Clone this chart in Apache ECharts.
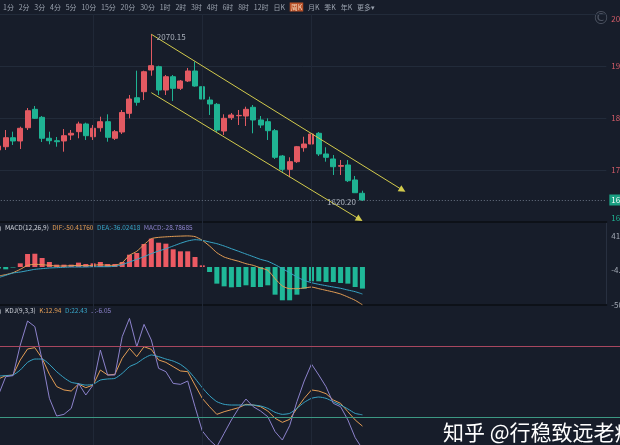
<!DOCTYPE html>
<html><head><meta charset="utf-8">
<script src="https://cdn.jsdelivr.net/npm/echarts@6/dist/echarts.min.js"></script>
<style>html,body{margin:0;padding:0;background:#171d2a;}#c{width:620px;height:445px;}</style>
</head><body><div id="c"></div>
<script>
// ---------- data ----------
const periodTabs = ['1分','2分','3分','4分','5分','10分','15分','20分','30分','1时','2时','3时','4时','6时','8时','12时','日K','周K','月K','季K','年K','更多▾'];
const activeTab = '周K';
const categories = Array.from({length: 86}, (_, i) => 'W' + (i + 1));

const openP  = [1738.5,1744.8,1762.1,1755.8,1781.3,1816.7,1801.3,1761.0,1756.3,1755.8,1767.3,1773.7,1788.5,1764.0,1781.3,1792.9,1761.0,1773.1,1809.0,1839.0,1850.6,1892.3,1898.7,1853.8,1879.4,1857.1,1871.2,1890.4,1860.2,1834.6,1826.3,1775.0,1800.6,1804.4,1803.8,1820.6,1796.2,1792.9,1775.6,1726.9,1701.3,1716.0,1742.9,1750.0,1770.6,1730.8,1721.2,1707.2,1709.6,1680.8,1655.2];
const closeP = [1746.2,1762.1,1755.8,1780.2,1814.0,1799.4,1761.0,1756.3,1754.4,1766.0,1770.6,1788.5,1766.0,1780.2,1792.9,1762.9,1773.7,1810.6,1836.5,1830.2,1889.0,1900.6,1853.8,1879.4,1857.1,1871.2,1890.4,1861.5,1836.5,1826.9,1776.9,1799.4,1805.8,1805.0,1816.7,1796.2,1786.5,1775.6,1724.4,1701.3,1716.0,1744.8,1750.0,1769.2,1730.8,1724.4,1706.3,1708.5,1679.4,1656.3,1642.3];
const lowP   = [1734.6,1738.5,1748.1,1740.4,1776.9,1798.1,1753.8,1749.4,1744.8,1735.2,1757.7,1761.0,1757.7,1757.7,1773.7,1754.4,1757.7,1769.2,1799.4,1823.7,1834.6,1881.3,1844.2,1844.2,1832.7,1853.8,1869.2,1860.2,1821.7,1805.8,1773.1,1767.3,1796.2,1786.5,1784.6,1770.6,1780.8,1757.7,1721.2,1696.7,1686.0,1713.5,1735.2,1748.1,1726.9,1716.0,1690.4,1690.4,1676.9,1655.8,1640.4];
const highP  = [1751.9,1776.9,1773.7,1783.3,1819.2,1823.1,1803.8,1773.7,1763.5,1778.8,1776.9,1792.9,1791.0,1786.5,1802.5,1807.1,1776.9,1815.4,1844.2,1891.0,1891.0,1961.0,1900.6,1882.7,1882.7,1873.1,1896.2,1908.3,1863.5,1841.0,1828.8,1807.1,1809.6,1815.4,1821.7,1825.0,1803.8,1799.4,1778.8,1728.8,1724.4,1746.2,1764.0,1775.6,1773.1,1743.7,1728.8,1719.2,1719.2,1688.5,1660.2];

const macdHist = [-2,-3.1,-0.7,4.9,17.3,17.7,12,6.7,3.1,3.1,3.1,5.8,4,4.9,6.7,4,4,6.7,16.4,18.7,30.7,37.8,32.4,31.1,23.6,20.9,20.9,13.3,2.2,-6.7,-22.2,-25.8,-27.1,-26.7,-24.4,-26.7,-26.7,-24.4,-36.9,-44.4,-44.4,-36.9,-28.9,-19.1,-19.1,-20,-20,-21.3,-22.2,-26.7,-28.79];
const difLine  = [-12,-10.2,-7.6,-3.1,2.2,3.6,3.1,2.2,1.3,1.3,1.8,2.2,1.8,2.2,3.1,2.2,2.2,5.8,15.6,20.9,29.8,37.8,39.5,40.2,40.8,41.2,41.45,40.5,35.6,28,19.1,13.3,10.2,7.6,4.4,2.2,-1.3,-4.4,-15.6,-25.3,-28.9,-28.9,-28,-26.7,-28.9,-31.1,-33.3,-36,-40,-44.4,-50.42];
const deaLine  = [-14.2,-11.1,-8,-6.7,-4.9,-3.1,-2.2,-1.3,-0.9,-0.4,0,0,0,0.4,0.4,0.4,0.9,3.1,6.7,10.2,13.8,17.8,21.3,24.4,28,31.6,34.7,36.4,35.6,33.3,31.1,28,24.4,20.9,17.3,13.8,10.2,7.6,3.1,-2.2,-7.6,-13.3,-17.8,-20.9,-23.1,-24.9,-26.7,-28.4,-30.7,-32.9,-36.02];

const kLine = [52.4,55.2,55.7,68.3,77.5,78.6,69.7,56.3,46,43.2,42.3,48.2,45.1,47.3,59.9,55.7,56.3,69.7,78,71.1,79.4,77.2,68.3,66.3,62.7,59.1,58.5,47.3,36.2,29.2,22.8,25,26.7,28.4,31.2,30.6,29.2,25.6,19.5,16.1,18.6,27.8,36.2,43.2,42.3,40.1,34.8,32,25,18.1,12.94];
const dLine = [54.9,55.2,55.7,59.9,66.3,69.1,69.1,64.6,58.5,53.5,49.6,48.5,47.3,47.9,51.5,52.4,52.9,57.1,62.7,65.5,69.7,72.5,71.1,69.1,67.4,64.6,59.9,52.9,45.1,38.4,33.4,31.2,30.6,30.6,30.6,30.6,29.8,27.8,24.5,22.8,23.6,27.8,32.8,36.2,37.3,36.2,33.4,30.6,27.3,23.6,22.43];
const jLine = [39,54.3,55.2,80.8,100.9,96.2,68.3,36.2,21.4,22.8,27.8,48.7,39,47.3,76.6,55.7,55.7,87.8,103.1,79.4,98.1,85,61.3,58.5,48.7,47.9,50.7,29.2,8.9,1.3,-4.3,6.9,18.1,27.8,35.6,29.2,25.6,20.8,8.3,1.3,13.3,33.4,50.7,64.9,55.7,45.9,32,29.2,18.1,3.3,-6.05];

const priceTickValues = [1600, 1700, 1800, 1900, 2000];
const macdTickLabels = [41.45, -4.48, -50.42];
const kdjLevels = [80, 20];
const extremeLabels = ['2070.15', '1620.20'];
const channelUpper = [[21, 1961.0], [55.5, 1661.5]];
const channelLower = [[21, 1848.7], [49.6, 1605.2]];
const gridMarks = [13, 28, 43];
const macdHeader = ['MACD(12,26,9)', 'DIF:-50.41760', 'DEA:-36.02418', 'MACD:-28.78685'];
const kdjHeader = ['KDJ(9,3,3)', 'K:12.94', 'D:22.43', 'J:-6.05'];
const watermark = '知乎 @行稳致远老痒';

// ---------- styles ----------
const BG = '#171d2a';
const UP = '#e25a62', DOWN = '#1fb393';
const FONT = '"Noto Sans CJK SC", "Noto Sans", sans-serif';
const C_ORANGE = '#e39d55', C_BLUE = '#38a5c6', C_PURPLE = '#8d83cc';

const candleData = openP.map((o, i) => [o, closeP[i], lowP[i], highP[i]]);
const hiIdx = highP.indexOf(Math.max(...highP));
const loIdx = lowP.indexOf(Math.min(...lowP));
const lastIdx = closeP.length - 1;

const graphics = [];
const tabText = periodTabs.map(t => (t === activeTab ? '{a|' : '{n|') + t + '}').join('{g| }');
graphics.push({type: 'text', x: 3, y: 7, silent: true, style: {
  text: tabText, verticalAlign: 'middle',
  rich: {
    n: {fontSize: 7, fontFamily: FONT, fill: '#9aa2ae'},
    a: {fontSize: 7, fontFamily: FONT, fill: '#f3d2b8', backgroundColor: '#b9522a', padding: [1, 1, 1, 1]},
    g: {fontSize: 7, fontFamily: FONT, fill: '#9aa2ae', width: 4.8}
  }}});
graphics.push({type: 'text', x: 601, y: 20, silent: true, style: {text: '©', font: '17px DejaVu Sans', fill: '#4c5361', align: 'center', verticalAlign: 'middle'}});
function header(items, y) {
  graphics.push({type: 'text', x: -1, y: y, silent: true, style: {text: ')', font: '7px ' + FONT, fill: '#c9ced6', verticalAlign: 'middle'}});
  const keys = ['t', 'o', 'b', 'p'];
  const text = items.map((t, i) => '{' + keys[i] + '|' + t + '}').join('{g| }');
  graphics.push({type: 'text', x: 5, y: y, silent: true, style: {
    text: text, verticalAlign: 'middle',
    rich: {
      t: {fontSize: 6.5, fontFamily: FONT, fill: '#d3d7de'},
      o: {fontSize: 6.5, fontFamily: FONT, fill: C_ORANGE},
      b: {fontSize: 6.5, fontFamily: FONT, fill: C_BLUE},
      p: {fontSize: 6.5, fontFamily: FONT, fill: C_PURPLE},
      g: {fontSize: 6.5, fontFamily: FONT, fill: '#d3d7de', width: 3.5}
    }}});
}
header(macdHeader, 228);
header(kdjHeader, 311);
graphics.push({type: 'text', x: 443, y: 432, z: 100, silent: true, style: {text: watermark, font: '21px "Noto Sans CJK SC"', fill: '#ffffff', verticalAlign: 'middle'}});

function vMarks(color) {
  return gridMarks.map(i => ({xAxis: i, lineStyle: {color: color, type: 'solid', width: 1}, label: {show: false}}));
}

const gridW = 84 * 7.28;
const option = {
  backgroundColor: BG,
  animation: false,
  grid: [
    {left: -5.2, top: 14, width: gridW, height: 208, outerBoundsMode: 'none', containLabel: false},
    {left: -5.2, top: 222, width: gridW, height: 83, outerBoundsMode: 'none', containLabel: false},
    {left: -5.2, top: 305, width: 86 * 7.28, height: 140, outerBoundsMode: 'none', containLabel: false}
  ],
  xAxis: [
    {type: 'category', gridIndex: 0, data: categories.slice(0, 84), boundaryGap: true,
     axisLine: {show: true, onZero: false, lineStyle: {color: '#0d1118', width: 2}}, axisTick: {show: false}, axisLabel: {show: false}, splitLine: {show: false}},
    {type: 'category', gridIndex: 1, data: categories.slice(0, 84), boundaryGap: true,
     axisLine: {show: true, onZero: false, lineStyle: {color: '#0d1118', width: 2}}, axisTick: {show: false}, axisLabel: {show: false}, splitLine: {show: false}},
    {type: 'category', gridIndex: 2, data: categories, boundaryGap: true,
     axisLine: {show: false}, axisTick: {show: false}, axisLabel: {show: false}, splitLine: {show: false}},
    {type: 'value', gridIndex: 0, min: -0.5, max: 83.5, show: false}
  ],
  yAxis: [
    {type: 'value', gridIndex: 0, position: 'right', min: priceTickValues[0], max: priceTickValues[priceTickValues.length - 1], interval: 100,
     axisLine: {show: true, lineStyle: {color: '#283040'}}, axisTick: {show: false},
     splitLine: {show: true, lineStyle: {color: '#222b3a', width: 1}},
     axisLabel: {margin: 5, fontSize: 8, fontFamily: FONT, color: '#d25c68',
       formatter: v => v === 2000 ? '{top|' + v + '}' : (v === 1600 ? '{low|' + v + '}' : String(v)),
       rich: {top: {padding: [10, 0, 0, 0], color: '#d25c68', fontSize: 8}, low: {padding: [0, 0, 8, 0], color: DOWN, fontSize: 8}}}},
    {type: 'value', gridIndex: 1, position: 'right', min: -50.67, max: 60,
     axisLine: {show: true, lineStyle: {color: '#283040'}}, axisTick: {show: false, customValues: macdTickLabels}, splitLine: {show: false},
     axisLabel: {customValues: macdTickLabels, margin: 5, fontSize: 8, fontFamily: FONT, color: '#a2a9b4', formatter: v => v.toFixed(2)}},
    {type: 'value', gridIndex: 2, min: -2.85, max: 114.3, show: false}
  ],
  series: [
    {type: 'candlestick', xAxisIndex: 0, yAxisIndex: 0, data: candleData, barWidth: 5.5,
     itemStyle: {color: UP, color0: DOWN, borderColor: UP, borderColor0: DOWN, borderWidth: 1},
     markPoint: {silent: true, animation: false, data: [
       {coord: [hiIdx, highP[hiIdx]], symbol: 'circle', symbolSize: 1, itemStyle: {color: 'rgba(0,0,0,0)'},
        label: {show: true, position: 'right', distance: 5, offset: [0, 3], formatter: extremeLabels[0], color: '#aab1bc', fontSize: 8, fontFamily: FONT}},
       {coord: [loIdx, lowP[loIdx]], symbol: 'circle', symbolSize: 1, itemStyle: {color: 'rgba(0,0,0,0)'},
        label: {show: true, position: 'left', distance: 6, offset: [0, 1], formatter: extremeLabels[1], color: '#aab1bc', fontSize: 8, fontFamily: FONT}}
     ]},
     markLine: {silent: true, animation: false, symbol: ['none', 'none'], data: [
       ...vMarks('#202837'),
       {yAxis: closeP[lastIdx], lineStyle: {color: '#6a7384', type: [1, 2], width: 1},
        label: {show: true, position: 'end', distance: 3, formatter: () => closeP[lastIdx].toFixed(2),
          backgroundColor: '#1a9f82', color: '#ffffff', fontSize: 8, fontFamily: FONT, padding: [2, 2, 1, 2]}}
     ]}},
    {type: 'lines', coordinateSystem: 'cartesian2d', xAxisIndex: 3, yAxisIndex: 0, silent: true, z: 5,
     symbol: ['none', 'triangle'], symbolSize: 7,
     lineStyle: {color: '#d2ca4c', width: 1, opacity: 1},
     data: [{coords: channelUpper}, {coords: channelLower}]},
    {type: 'bar', xAxisIndex: 1, yAxisIndex: 1, data: macdHist, barWidth: 5,
     itemStyle: {color: p => p.value >= 0 ? '#ec5a63' : '#1fb898'},
     markLine: {silent: true, animation: false, symbol: ['none', 'none'], data: vMarks('#202837')}},
    {type: 'line', xAxisIndex: 1, yAxisIndex: 1, data: difLine, showSymbol: false, smooth: 0.2, lineStyle: {color: C_ORANGE, width: 1}},
    {type: 'line', xAxisIndex: 1, yAxisIndex: 1, data: deaLine, showSymbol: false, smooth: 0.2, lineStyle: {color: C_BLUE, width: 1}},
    {type: 'line', xAxisIndex: 2, yAxisIndex: 2, data: kLine, showSymbol: false, lineStyle: {color: C_ORANGE, width: 1},
     markLine: {silent: true, animation: false, symbol: ['none', 'none'], data: [
       ...vMarks('#202837'),
       {yAxis: kdjLevels[0], lineStyle: {color: '#a8475f', type: 'solid', width: 1.2}, label: {show: false}},
       {yAxis: kdjLevels[1], lineStyle: {color: '#3c9883', type: 'solid', width: 1.2}, label: {show: false}}
     ]}},
    {type: 'line', xAxisIndex: 2, yAxisIndex: 2, data: dLine, showSymbol: false, smooth: 0.2, lineStyle: {color: C_BLUE, width: 1}},
    {type: 'line', xAxisIndex: 2, yAxisIndex: 2, data: jLine, showSymbol: false, lineStyle: {color: C_PURPLE, width: 1}}
  ],
  graphic: graphics
};
const chart = echarts.init(document.getElementById('c'), null, {renderer: 'canvas'});
chart.setOption(option);
</script></body></html>
